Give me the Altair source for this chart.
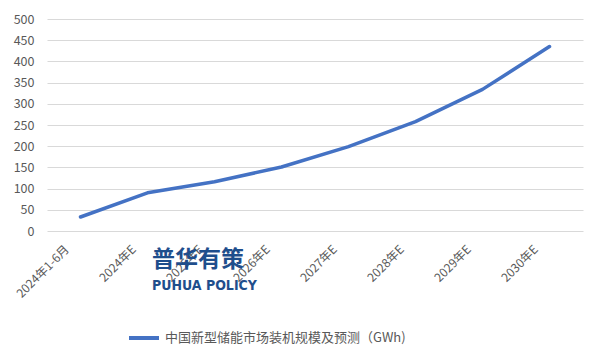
import altair as alt
import pandas as pd

categories = ["2024年1-6月", "2024年E", "2025年E", "2026年E", "2027年E", "2028年E", "2029年E", "2030年E"]
values = [33, 90, 116, 151, 199, 258, 334, 435]
series_name = "中国新型储能市场装机规模及预测（GWh)"

df = pd.DataFrame({"cat": categories, "value": values, "series": [series_name] * len(categories)})

FONT = "Noto Sans CJK SC"
GREY = "#595959"

line = alt.Chart(df).mark_line(strokeWidth=3.5, strokeCap="round", strokeJoin="round").encode(
    x=alt.X("cat:N", sort=categories, title=None,
            scale=alt.Scale(paddingInner=0, paddingOuter=0.5),
            axis=alt.Axis(labelAngle=-45, labelAlign="right", labelBaseline="middle",
                          labelOffset=-14, labelPadding=16, ticks=False, domain=False,
                          labelFont=FONT, labelFontSize=12, labelColor=GREY, grid=False)),
    y=alt.Y("value:Q", title=None,
            scale=alt.Scale(domain=[0, 500], nice=False),
            axis=alt.Axis(values=list(range(0, 501, 50)), ticks=False, domain=False,
                          labelFont=FONT, labelFontSize=12.5, labelColor=GREY, labelPadding=13,
                          gridColor="#d9d9d9", gridWidth=1)),
    color=alt.Color("series:N", scale=alt.Scale(range=["#4472C4"]), title=None,
                    legend=alt.Legend(orient="none", legendX=80, legendY=302,
                                      symbolType="stroke", symbolStrokeWidth=4, symbolSize=900,
                                      labelFont=FONT, labelFontSize=13, labelColor=GREY,
                                      labelLimit=400)),
)

wm1 = alt.Chart(pd.DataFrame({"t": ["普华有策"]})).mark_text(
    font=FONT, fontSize=23, fontWeight="bold", color="#1F4E8C", align="left", baseline="middle"
).encode(text="t:N", x=alt.value(105), y=alt.value(241))

wm2 = alt.Chart(pd.DataFrame({"t": ["PUHUA POLICY"]})).mark_text(
    font="DejaVu Sans Condensed, Noto Sans", fontSize=14, fontWeight="bold", color="#1F4E8C",
    align="left", baseline="middle"
).encode(text="t:N", x=alt.value(105), y=alt.value(267))

chart = alt.layer(line, wm1, wm2).properties(
    width=536, height=212,
    autosize=alt.AutoSizeParams(type="none"),
    padding={"left": 39, "top": 11, "right": 10, "bottom": 122},
    background="white",
).configure_view(stroke=None)

chart.save("out.html", embed_options={"renderer": "svg", "actions": False})
